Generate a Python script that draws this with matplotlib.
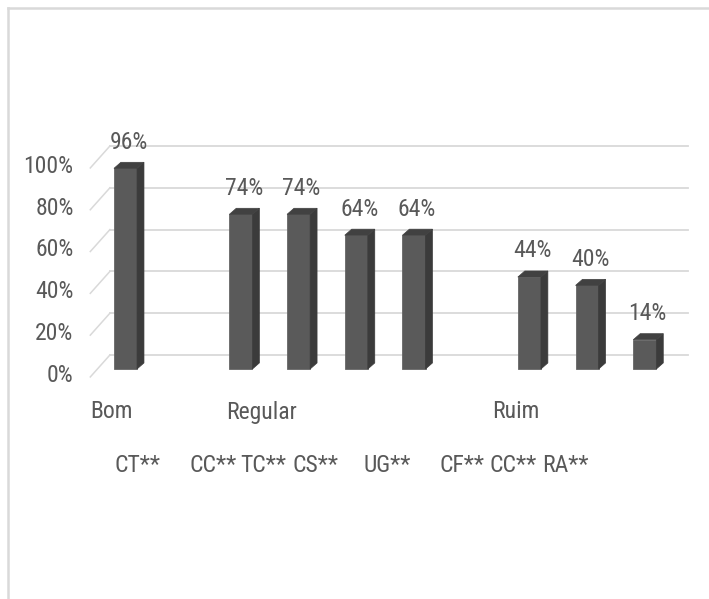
import matplotlib
matplotlib.use('Agg')
import matplotlib.pyplot as plt
from matplotlib.patches import Polygon
from matplotlib.lines import Line2D

plt.rcParams['font.family'] = ['Roboto Condensed', 'PT Sans Narrow', 'DejaVu Sans']

# data
slots = [0, 2, 3, 4, 5, 7, 8, 9]          # 10 slots, 1 and 6 left empty
values = [96, 74, 74, 64, 64, 44, 40, 14]
value_labels = ['96%', '74%', '74%', '64%', '64%', '44%', '40%', '14%']
yticks = [0, 20, 40, 60, 80, 100]
group_labels = ['Bom', 'Regular', 'Ruim']
sub_labels = ['CT**', 'CC**', 'TC**', 'CS**', 'UG**', 'CF**', 'CC**', 'RA**']

# layout (pixel centres of the free-standing text labels)
group_px = [111, 262, 516]
sub_px = [138, 213, 263, 315, 387, 462, 513, 565]

W, H = 709, 599
fig = plt.figure(figsize=(W / 100, H / 100), dpi=100)

# axes mapping: x_px = 125.5 + 57.7 * x, y_px = 369 - 2.09 * v
xlim = (-0.65, 9.8)
ylim = (-5, 130)
x0 = 125.5 + 57.7 * xlim[0]
x1 = 125.5 + 57.7 * xlim[1]
yb = 369 + 2.09 * 5
yt = 369 - 2.09 * 130
ax = fig.add_axes([x0 / W, (H - yb) / H, (x1 - x0) / W, (yb - yt) / H])
ax.set_xlim(*xlim)
ax.set_ylim(*ylim)
ax.axis('off')

grid_c = '#d9d9d9'
text_c = '#595959'
depth_x, depth_y = 0.12, 2.9      # bar depth in data units
back_dy = 6.7                     # back wall offset
bw = 0.40
fs = 17

# back wall gridlines with floor-side diagonals
for v in yticks:
    ax.plot([-0.61, -0.27], [v - 3.8, v + back_dy], color=grid_c, lw=1.1, zorder=1)
    ax.plot([-0.27, 9.75], [v + back_dy, v + back_dy], color=grid_c, lw=1.3, zorder=1)
    ax.text(-0.9, v - 3, f'{v}%', ha='right', va='center', fontsize=fs,
            color=text_c, clip_on=False)

# bars with side and top faces
for s, v, lab in zip(slots, values, value_labels):
    left = s - bw / 2
    right = s + bw / 2
    ax.bar(s, v, width=bw, color='#5a5a5a', edgecolor='#666666', lw=0.6, zorder=3)
    side = Polygon([[right, 0], [right + depth_x, depth_y], [right + depth_x, v + depth_y], [right, v]],
                   closed=True, facecolor='#3b3b3b', edgecolor='#3b3b3b', lw=0.5, zorder=3)
    top = Polygon([[left, v], [right, v], [right + depth_x, v + depth_y], [left + depth_x, v + depth_y]],
                  closed=True, facecolor='#414141', edgecolor='#414141', lw=0.5, zorder=3)
    ax.add_patch(side)
    ax.add_patch(top)
    ax.text(s + 0.05, v + 12.5, lab, ha='center', va='center', fontsize=fs, color=text_c)

for lab, px in zip(group_labels, group_px):
    fig.text(px / W, 1 - 412 / H, lab, ha='center', va='center', fontsize=fs, color=text_c)
for lab, px in zip(sub_labels, sub_px):
    fig.text(px / W, 1 - 465 / H, lab, ha='center', va='center', fontsize=fs, color=text_c)

# chart border (left and top edges visible)
fig.add_artist(Line2D([8 / W, 8 / W], [0, 1 - 8 / H], color=grid_c, lw=1.8))
fig.add_artist(Line2D([8 / W, 1], [1 - 8 / H, 1 - 8 / H], color=grid_c, lw=1.8))

fig.savefig('out.png', dpi=100)
